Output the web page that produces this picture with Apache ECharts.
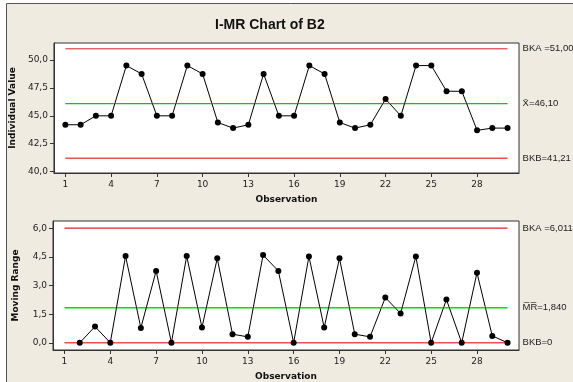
<!DOCTYPE html>
<html>
<head>
<meta charset="utf-8">
<script src="https://cdn.jsdelivr.net/npm/echarts@6/dist/echarts.min.js"></script>
<style>
html,body{margin:0;padding:0;background:#fff;}
#c{width:573px;height:382px;}
</style>
</head>
<body>
<div id="c"></div>
<script>
// Data
var observations = [1,2,3,4,5,6,7,8,9,10,11,12,13,14,15,16,17,18,19,20,21,22,23,24,25,26,27,28,29,30];
var individualValues = [44.2,44.2,45.0,45.0,49.5,48.75,45.0,45.0,49.5,48.75,44.4,43.9,44.2,48.75,45.0,45.0,49.5,48.75,44.4,43.9,44.2,46.5,45.0,49.5,49.5,47.2,47.2,43.7,43.9,43.9];
var movingRanges = [null,0,0.85,0,4.55,0.78,3.77,0,4.55,0.8,4.43,0.45,0.31,4.6,3.77,0,4.53,0.8,4.43,0.45,0.31,2.37,1.54,4.53,0,2.27,0,3.67,0.36,0];
var xTickValues = [1,4,7,10,13,16,19,22,25,28];
var iTickValues = [40,42.5,45,47.5,50];
var mrTickValues = [0,1.5,3,4.5,6];
var iLimits = {ucl:51.00, cl:46.10, lcl:41.21};
var mrLimits = {ucl:6.011, cl:1.840, lcl:0};
var iLabels = {ucl:'BKA =51,00', cl:'X\u0304=46,10', lcl:'BKB=41,21'};
var mrLabels = {ucl:'BKA =6,011', cl:'M\u0305R\u0305=1,840', lcl:'BKB=0'};

var chart = echarts.init(document.getElementById('c'), null, {renderer:'canvas'});
var tickFont = 'DejaVu Sans';
var dark = '#333';
function fmt1(v){ return v.toFixed(1).replace('.', ','); }

function xAxisCfg(gi){
  return {
    gridIndex: gi, type:'value', min:0.25, max:30.75,
    axisLine:{show:true, onZero:false, lineStyle:{color:dark, width:1}},
    axisTick:{show:true, length:4, customValues:xTickValues, lineStyle:{color:dark}},
    axisLabel:{customValues:xTickValues, fontFamily:tickFont, fontSize:9, color:'#222', margin:7},
    splitLine:{show:false},
    name:'Observation', nameLocation:'middle', nameGap:22,
    nameTextStyle:{fontFamily:'DejaVu Sans', fontWeight:'bold', fontSize:9, color:'#111'}
  };
}
function yAxisCfg(gi, min, max, ticks, name){
  return {
    gridIndex: gi, type:'value', min:min, max:max,
    axisLine:{show:true, onZero:false, lineStyle:{color:dark, width:1}},
    axisTick:{show:true, length:4, customValues:ticks, lineStyle:{color:dark}},
    axisLabel:{customValues:ticks, fontFamily:tickFont, fontSize:9, color:'#222', margin:6, formatter:fmt1},
    splitLine:{show:false},
    name:name, nameLocation:'middle', nameGap:33,
    nameTextStyle:{fontFamily:'DejaVu Sans', fontWeight:'bold', fontSize:9, color:'#111'}
  };
}
function limitSeries(gi, value, label, color, width){
  return {
    type:'line', xAxisIndex:gi, yAxisIndex:gi, data:[[1, value],[30, value]],
    symbol:'none', silent:true, z:1,
    lineStyle:{color:color, width:width, type:'solid'},
    endLabel:{show:true, formatter:label, distance:15, fontFamily:'Liberation Sans', fontSize:9.5, color:'#222'}
  };
}
function pairs(vals){ return observations.map(function(o,i){ return [o, vals[i]]; }); }

chart.setOption({
  animation:false,
  backgroundColor:'#fff',
  graphic:[{type:'rect', z:-10, shape:{x:6.5, y:3.5, width:600, height:400},
    style:{fill:'#efebe1', stroke:'#555', lineWidth:1}}],
  title:{text:'I-MR Chart of B2', left:210, top:13,
    textStyle:{fontFamily:'Liberation Sans', fontWeight:'bold', fontSize:14, color:'#111'}},
  grid:[
    {left:53, top:43, width:466, height:130, show:true, backgroundColor:'#fff', borderColor:dark, borderWidth:1},
    {left:53, top:221, width:466, height:130, show:true, backgroundColor:'#fff', borderColor:dark, borderWidth:1}
  ],
  xAxis:[xAxisCfg(0), xAxisCfg(1)],
  yAxis:[yAxisCfg(0, 39.88, 51.52, iTickValues, 'Individual Value'),
         yAxisCfg(1, -0.38, 6.39, mrTickValues, 'Moving Range')],
  series:[
    limitSeries(0, iLimits.ucl, iLabels.ucl, '#dd2222', 1),
    limitSeries(0, iLimits.cl, iLabels.cl, '#00cc00', 1.3),
    limitSeries(0, iLimits.lcl, iLabels.lcl, '#ee5050', 1.5),
    limitSeries(1, mrLimits.ucl, mrLabels.ucl, '#dd2222', 1.2),
    limitSeries(1, mrLimits.cl, mrLabels.cl, '#00e000', 1.5),
    limitSeries(1, mrLimits.lcl, mrLabels.lcl, '#ee5050', 1.5),
    {type:'line', xAxisIndex:0, yAxisIndex:0, data:pairs(individualValues), z:3,
     symbol:'circle', symbolSize:6, itemStyle:{color:'#000'}, lineStyle:{color:'#000', width:1}},
    {type:'line', xAxisIndex:1, yAxisIndex:1, data:pairs(movingRanges), z:3,
     symbol:'circle', symbolSize:6, itemStyle:{color:'#000'}, lineStyle:{color:'#000', width:1}}
  ]
});
</script>
</body>
</html>
